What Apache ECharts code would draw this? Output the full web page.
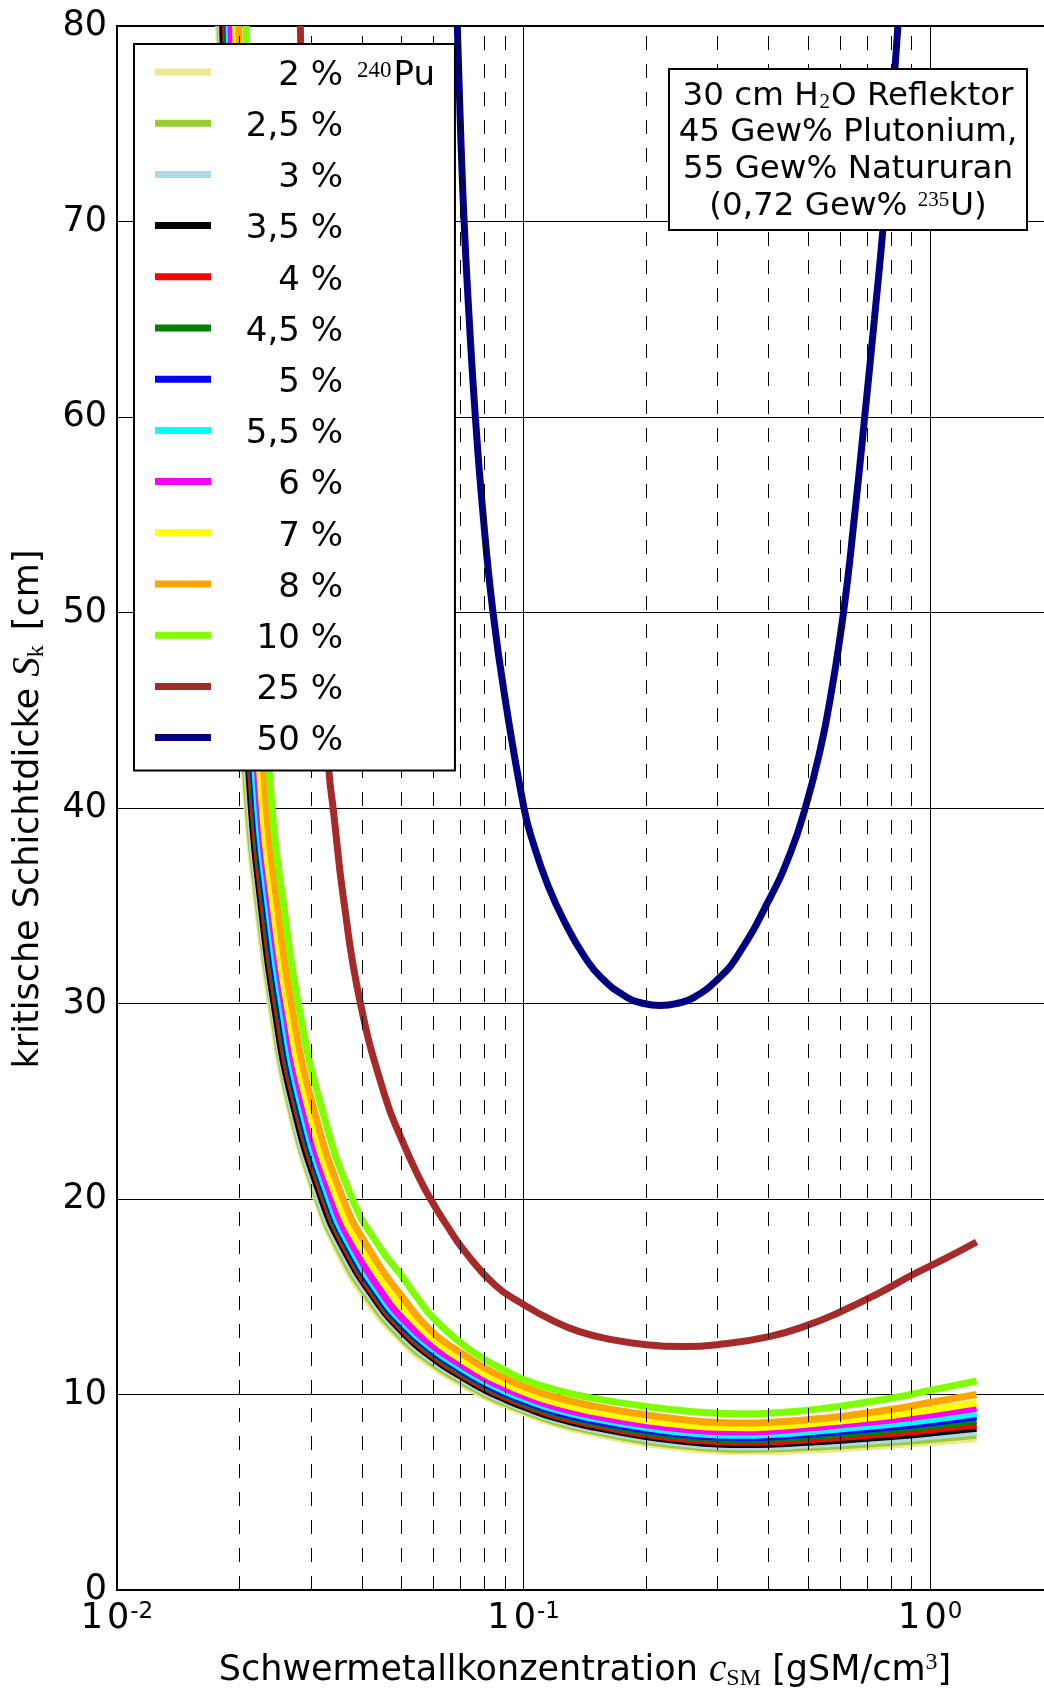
<!DOCTYPE html>
<html><head><meta charset="utf-8">
<script src="https://cdn.jsdelivr.net/npm/echarts@6/dist/echarts.min.js"></script>
<style>html,body{margin:0;padding:0;background:#fff}#c{width:1044px;height:1691px}</style>
</head><body><div id="c"></div>
<script>
// ---- data ----
const seriesNames = ['2 %','2,5 %','3 %','3,5 %','4 %','4,5 %','5 %','5,5 %','6 %','7 %','8 %','10 %','25 %','50 %'];
const seriesColors = ['#F0E68C','#9ACD32','#ADD8E6','#000000','#FF0000','#008000','#0000FF','#00FFFF','#FF00FF','#FFFF00','#FFA500','#7FFF00','#A52A2A','#000080'];

const pu2   = [[0.01778,80],[0.01885,60],[0.01959,50],[0.02088,40],[0.02212,35],[0.02382,30],[0.02632,25],[0.03093,20],[0.03461,17.5],[0.04065,15],[0.05,12.77],[0.06,11.42],[0.07,10.57],[0.08,9.91],[0.09,9.44],[0.1,9.07],[0.12,8.49],[0.15,7.99],[0.2,7.49],[0.25,7.24],[0.3,7.11],[0.35,7.07],[0.4,7.08],[0.5,7.16],[0.6,7.24],[0.8,7.40],[1.0,7.55],[1.3,7.74]];
const pu2_5 = [[0.01792,80],[0.01899,60],[0.01973,50],[0.02103,40],[0.02230,35],[0.02403,30],[0.02653,25],[0.03116,20],[0.03502,17.5],[0.04133,15],[0.05,12.93],[0.06,11.56],[0.07,10.69],[0.08,10.02],[0.09,9.55],[0.1,9.17],[0.12,8.59],[0.15,8.10],[0.2,7.61],[0.25,7.36],[0.3,7.23],[0.35,7.19],[0.4,7.21],[0.5,7.29],[0.6,7.38],[0.8,7.54],[1.0,7.70],[1.3,7.91]];
const pu3   = [[0.01805,80],[0.01913,60],[0.01988,50],[0.02119,40],[0.02244,35],[0.02416,30],[0.02671,25],[0.03140,20],[0.03543,17.5],[0.04197,15],[0.05,13.10],[0.06,11.70],[0.07,10.82],[0.08,10.14],[0.09,9.66],[0.1,9.27],[0.12,8.70],[0.15,8.21],[0.2,7.73],[0.25,7.48],[0.3,7.35],[0.35,7.32],[0.4,7.33],[0.5,7.43],[0.6,7.52],[0.8,7.69],[1.0,7.86],[1.3,8.08]];
const pu3_5 = [[0.01819,80],[0.01932,60],[0.02008,50],[0.02140,40],[0.02263,35],[0.02433,30],[0.02700,25],[0.03187,20],[0.03600,17.5],[0.04270,15],[0.05,13.27],[0.06,11.84],[0.07,10.94],[0.08,10.25],[0.09,9.76],[0.1,9.37],[0.12,8.80],[0.15,8.32],[0.2,7.85],[0.25,7.60],[0.3,7.47],[0.35,7.44],[0.4,7.46],[0.5,7.56],[0.6,7.66],[0.8,7.85],[1.0,8.03],[1.3,8.27]];
const pu4   = [[0.01850,80],[0.01951,60],[0.02028,50],[0.02161,40],[0.02287,35],[0.02461,30],[0.02734,25],[0.03230,20],[0.03644,17.5],[0.04317,15],[0.05,13.39],[0.06,11.96],[0.07,11.05],[0.08,10.36],[0.09,9.87],[0.1,9.48],[0.12,8.91],[0.15,8.43],[0.2,7.95],[0.25,7.71],[0.3,7.59],[0.35,7.56],[0.4,7.58],[0.5,7.69],[0.6,7.80],[0.8,8.00],[1.0,8.19],[1.3,8.44]];
const pu4_5 = [[0.01862,80],[0.01965,60],[0.02043,50],[0.02177,40],[0.02306,35],[0.02483,30],[0.02758,25],[0.03259,20],[0.03680,17.5],[0.04364,15],[0.05,13.51],[0.06,12.06],[0.07,11.14],[0.08,10.45],[0.09,9.95],[0.1,9.56],[0.12,8.99],[0.15,8.52],[0.2,8.06],[0.25,7.82],[0.3,7.71],[0.35,7.68],[0.4,7.71],[0.5,7.83],[0.6,7.95],[0.8,8.17],[1.0,8.37],[1.3,8.64]];
const pu5   = [[0.01875,80],[0.01984,60],[0.02062,50],[0.02198,40],[0.02330,35],[0.02511,30],[0.02787,25],[0.03291,20],[0.03718,17.5],[0.04411,15],[0.05,13.63],[0.06,12.17],[0.07,11.25],[0.08,10.55],[0.09,10.05],[0.1,9.66],[0.12,9.10],[0.15,8.63],[0.2,8.18],[0.25,7.94],[0.3,7.82],[0.35,7.80],[0.4,7.83],[0.5,7.97],[0.6,8.11],[0.8,8.34],[1.0,8.56],[1.3,8.86]];
const pu5_5 = [[0.01885,80],[0.02002,60],[0.02081,50],[0.02218,40],[0.02354,35],[0.02539,30],[0.02817,25],[0.03323,20],[0.03762,17.5],[0.04471,15],[0.05,13.77],[0.06,12.30],[0.07,11.37],[0.08,10.67],[0.09,10.17],[0.1,9.78],[0.12,9.22],[0.15,8.75],[0.2,8.30],[0.25,8.05],[0.3,7.93],[0.35,7.91],[0.4,7.95],[0.5,8.09],[0.6,8.24],[0.8,8.48],[1.0,8.71],[1.3,9.03]];
const pu6   = [[0.01908,80],[0.02030,60],[0.02109,50],[0.02248,40],[0.02387,35],[0.02578,30],[0.02862,25],[0.03380,20],[0.03830,17.5],[0.04556,15],[0.05,13.96],[0.06,12.47],[0.07,11.53],[0.08,10.82],[0.09,10.32],[0.1,9.92],[0.12,9.36],[0.15,8.89],[0.2,8.45],[0.25,8.21],[0.3,8.10],[0.35,8.08],[0.4,8.12],[0.5,8.28],[0.6,8.44],[0.8,8.70],[1.0,8.95],[1.3,9.29]];
const pu7   = [[0.01958,80],[0.02057,60],[0.02138,50],[0.02278,40],[0.02421,35],[0.02618,30],[0.02925,25],[0.03477,20],[0.03980,17.5],[0.04782,15],[0.05,14.48],[0.06,12.82],[0.07,11.82],[0.08,11.07],[0.09,10.55],[0.1,10.14],[0.12,9.58],[0.15,9.11],[0.2,8.67],[0.25,8.43],[0.3,8.32],[0.35,8.30],[0.4,8.34],[0.5,8.49],[0.6,8.64],[0.8,8.93],[1.0,9.21],[1.3,9.58]];
const pu8   = [[0.01992,80],[0.02104,60],[0.02186,50],[0.02330,40],[0.02480,35],[0.02683,30],[0.03012,25],[0.03597,20],[0.04148,17.5],[0.05022,15],[0.06,13.15],[0.07,12.14],[0.08,11.37],[0.09,10.83],[0.1,10.40],[0.12,9.85],[0.15,9.39],[0.2,8.96],[0.25,8.70],[0.3,8.57],[0.35,8.54],[0.4,8.57],[0.5,8.71],[0.6,8.87],[0.8,9.23],[1.0,9.59],[1.3,10.00]];
const pu10  = [[0.02080,80],[0.02172,60],[0.02258,50],[0.02406,40],[0.02570,35],[0.02791,30],[0.03154,25],[0.03791,20],[0.04438,17.5],[0.05,16.1],[0.05449,15],[0.06,13.90],[0.07,12.64],[0.08,11.81],[0.09,11.23],[0.1,10.77],[0.12,10.23],[0.15,9.79],[0.2,9.39],[0.25,9.16],[0.3,9.04],[0.35,9.01],[0.4,9.04],[0.5,9.20],[0.6,9.40],[0.8,9.81],[1.0,10.21],[1.3,10.69]];
const pu25  = [[0.02824,80],[0.0290,69],[0.0300,59],[0.0310,52],[0.0320,46.5],[0.0333,41.6],[0.0340,40],[0.0361,35.3],[0.0397,30.0],[0.0457,25.2],[0.0500,23.1],[0.0550,21.2],[0.0590,20.0],[0.0650,18.6],[0.0712,17.4],[0.0850,15.6],[0.1000,14.6],[0.1200,13.7],[0.1379,13.2],[0.1600,12.86],[0.2000,12.55],[0.2466,12.45],[0.3000,12.55],[0.4017,12.96],[0.5000,13.55],[0.6000,14.22],[0.7500,15.2],[0.9000,16.1],[1.1000,17.0],[1.3000,17.8]];
const pu50  = [[0.0687,80],[0.0699,75],[0.0714,70],[0.0735,65],[0.0761,60],[0.0795,55],[0.0841,50],[0.0902,45.5],[0.1002,40],[0.1049,38.4],[0.1150,36.0],[0.1274,34.0],[0.1412,32.4],[0.1556,31.3],[0.1785,30.35],[0.1975,30.0],[0.2170,29.9],[0.2380,30.0],[0.2619,30.3],[0.3006,31.25],[0.3348,32.4],[0.4014,35.3],[0.4529,37.7],[0.4929,40],[0.5367,43],[0.5667,45.5],[0.6120,50],[0.6520,55],[0.6900,60],[0.7290,65],[0.7680,70],[0.8010,75],[0.8330,80]];

const seriesData = [pu2,pu2_5,pu3,pu3_5,pu4,pu4_5,pu5,pu5_5,pu6,pu7,pu8,pu10,pu25,pu50];
const minorGridX = [0.02,0.03,0.04,0.05,0.06,0.07,0.08,0.09,0.2,0.3,0.4,0.5,0.6,0.7,0.8,0.9];
const xMin = 0.01, xMax = 2;
const yMin = 0, yMax = 80, yStep = 10;
const annotationLines = ['30 cm H{sub|2}O Reflektor','45 Gew% Plutonium,','55 Gew% Natururan','(0,72 Gew% {sup|235}U)'];

// ---- chart ----
const FONT = 'DejaVu Sans';
const SERIF = 'Liberation Serif';
const chart = echarts.init(document.getElementById('c'), null, {renderer:'canvas'});

const series = seriesData.map((d, i) => ({
  name: seriesNames[i], type: 'line', data: d, color: seriesColors[i],
  showSymbol: false, smooth: 0.5, clip: true, z: 2 + i * 0.01,
  lineStyle: {width: 7, color: seriesColors[i]},
  emphasis: {disabled: true}, animation: false
}));
series.unshift({
  name: 'minor', type: 'line', data: [], z: 1, animation: false, silent: true,
  markLine: {
    silent: true, symbol: ['none','none'], label: {show: false}, animation: false,
    lineStyle: {type: [14, 14], color: '#000', width: 1},
    emphasis: {disabled: true},
    data: minorGridX.map(v => ({xAxis: v}))
  }
});

const option = {
  animation: false,
  textStyle: {fontFamily: FONT},
  grid: {left: 117, top: 26, right: -8.6, bottom: 101, outerBoundsMode: 'none', containLabel: false,
         show: true, borderColor: '#000', borderWidth: 2, backgroundColor: 'transparent'},
  xAxis: {
    type: 'log', logBase: 10, min: xMin, max: xMax,
    axisLine: {show: true, lineStyle: {color: '#000', width: 2}},
    axisTick: {show: false},
    splitLine: {show: true, lineStyle: {color: '#000', width: 1}},
    axisLabel: {
      color: '#000', margin: 11, showMinLabel: true, showMaxLabel: false,
      formatter: v => {
        const lg = Math.log10(v), r = Math.round(lg);
        if (Math.abs(lg - r) > 1e-6) return '';
        return '{a|1}{b|0}{s|' + r + '}';
      },
      rich: {
        a: {fontSize: 35, fontFamily: FONT, color: '#000', lineHeight: 36, padding: [0, 4, 0, 0]},
        b: {fontSize: 35, fontFamily: FONT, color: '#000', lineHeight: 36, padding: [0, 1, 0, 0]},
        s: {fontSize: 23, fontFamily: FONT, color: '#000', lineHeight: 22, verticalAlign: 'top'}
      }
    }
  },
  yAxis: {
    type: 'value', min: yMin, max: yMax, interval: yStep,
    axisLine: {show: true, lineStyle: {color: '#000', width: 2}},
    axisTick: {show: false},
    splitLine: {show: true, lineStyle: {color: '#000', width: 1}},
    axisLabel: {color: '#000', fontSize: 35, fontFamily: FONT, margin: 10}
  },
  legend: {
    data: seriesNames, orient: 'vertical', left: 134, top: 44,
    padding: [7, 20, 12, 21], itemGap: 9.2, itemWidth: 56, itemHeight: 7, icon: 'rect',
    backgroundColor: '#fff', borderColor: '#000', borderWidth: 2, borderRadius: 0,
    selectedMode: false, z: 20,
    formatter: name => name === seriesNames[0] ? '{n|' + name + '}{p|240}{q|Pu}' : '{n|' + name + '}',
    textStyle: {
      fontSize: 34, fontFamily: FONT, color: '#000', lineHeight: 41,
      rich: {
        n: {fontSize: 34, fontFamily: FONT, color: '#000', lineHeight: 41, width: 127, align: 'right', padding: [8, 0, 0, 0]},
        p: {fontSize: 23, fontFamily: SERIF, color: '#000', lineHeight: 23, verticalAlign: 'top', align: 'right', padding: [8, 2, 0, 14]},
        q: {fontSize: 34, fontFamily: FONT, color: '#000', lineHeight: 41, align: 'right', padding: [8, 0, 0, 0]}
      }
    }
  },
  graphic: [
    {type: 'rect', z: 100, shape: {x: 669, y: 69, width: 358, height: 161}, style: {fill: '#fff', stroke: '#000', lineWidth: 2}},
    ...annotationLines.map((t, i) => ({
      type: 'text', z: 101, x: 848, y: 96.3 + i * 36.7,
      style: {
        text: t, fill: '#000', fontSize: 32.5, fontFamily: FONT, align: 'center', verticalAlign: 'middle',
        rich: {
          sub: {fontSize: 21, fontFamily: SERIF, fill: '#000', lineHeight: 21, verticalAlign: 'bottom', padding: [0, 1, 0, 1]},
          sup: {fontSize: 21, fontFamily: SERIF, fill: '#000', lineHeight: 21, verticalAlign: 'top', padding: [0, 1, 0, 0]}
        }
      }
    })),
    {
      type: 'text', z: 101, x: 585, y: 1671,
      style: {
        text: 'Schwermetallkonzentration {m|c}{sub|SM} [gSM/cm{sup|3}]',
        fill: '#000', fontSize: 35, fontFamily: FONT, align: 'center', verticalAlign: 'middle', lineHeight: 40,
        rich: {
          m: {fontSize: 39, fontFamily: SERIF, fontStyle: 'italic', fill: '#000', lineHeight: 40},
          sub: {fontSize: 24, fontFamily: SERIF, fill: '#000', lineHeight: 24, verticalAlign: 'bottom'},
          sup: {fontSize: 24, fontFamily: SERIF, fill: '#000', lineHeight: 24, verticalAlign: 'top'}
        }
      }
    },
    {
      type: 'text', z: 101, x: 29, y: 809, rotation: Math.PI / 2,
      style: {
        text: 'kritische Schichtdicke {m|S}{sub|k} [cm]',
        fill: '#000', fontSize: 35, fontFamily: FONT, align: 'center', verticalAlign: 'middle', lineHeight: 40,
        rich: {
          m: {fontSize: 39, fontFamily: SERIF, fontStyle: 'italic', fill: '#000', lineHeight: 40},
          sub: {fontSize: 24, fontFamily: SERIF, fill: '#000', lineHeight: 24, verticalAlign: 'bottom', padding: [0, 4, 0, 0]}
        }
      }
    }
  ],
  series: series
};
chart.setOption(option);
</script>
</body></html>
